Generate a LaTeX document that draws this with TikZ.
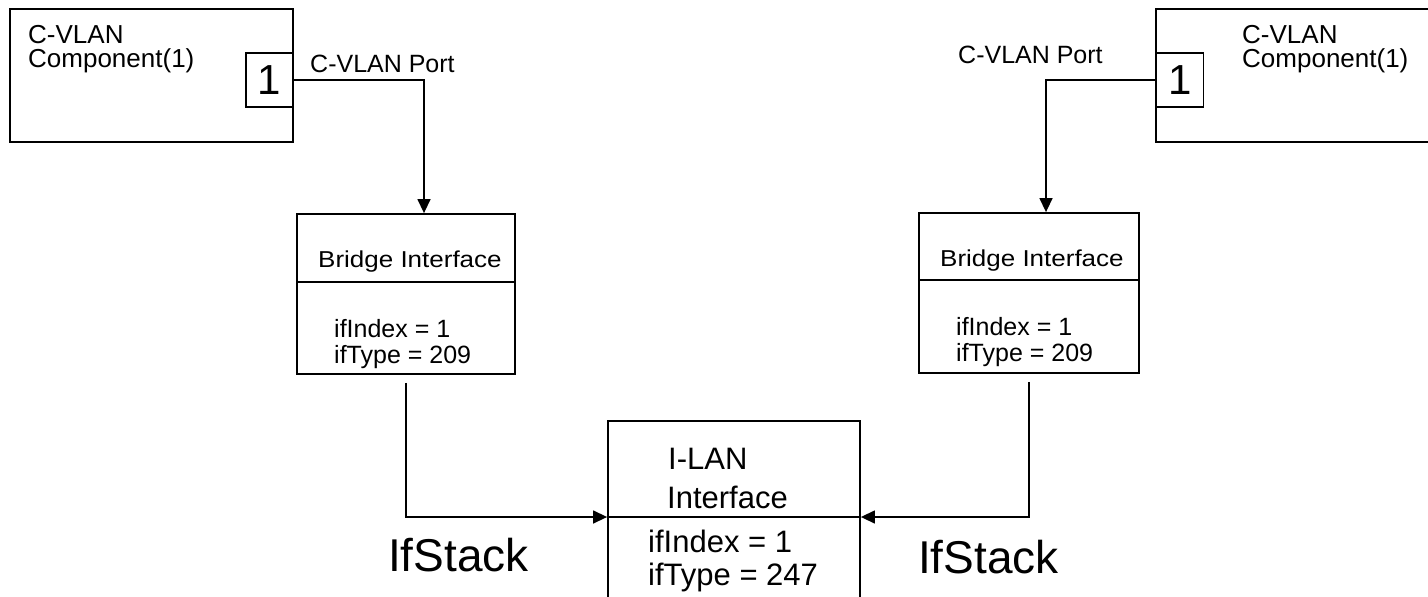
\documentclass[tikz,border=0pt]{standalone}
\usepackage{fontspec}
\setmainfont{Liberation Sans}
\newfontfamily\bifont[FakeStretch=1.13]{Liberation Sans}
\usetikzlibrary{arrows.meta,calc}
\begin{document}
\begin{tikzpicture}[x=1pt,y=-1pt,
  box/.style={draw,line width=1.8pt,inner sep=0pt},
  portbox/.style={draw,fill=white,line width=1.3pt,inner sep=0pt,minimum width=47pt,minimum height=54pt,font=\fontsize{42}{42}\selectfont},
  lbl/.style={anchor=base west,inner sep=0pt,font=\fontsize{25}{25}\selectfont},
  cmplbl/.style={anchor=base west,inner sep=0pt,font=\fontsize{26}{26}\selectfont},
  bilbl/.style={anchor=base west,inner sep=0pt,font=\bifont\fontsize{23}{23}\selectfont},
  illbl/.style={anchor=base west,inner sep=0pt,font=\fontsize{31}{31}\selectfont},
  stacklbl/.style={anchor=base west,inner sep=0pt,font=\fontsize{46}{46}\selectfont},
  divider/.style={line width=1.8pt},
  conn/.style={line width=1.4pt,-{Triangle[length=14pt,width=13pt]}},
]
\useasboundingbox (0,0) rectangle (1428,597);
\clip (0,0) rectangle (1428,597);

% components
\node[box,minimum width=283pt,minimum height=133pt] (c1) at (151.5,75.5) {};
\node[box,minimum width=290pt,minimum height=133pt] (c2) at (1301,75.5) {};
\node[portbox] (p1) at (269.5,80) {1};
\node[portbox] (p2) at (1180,80) {1};
\node[cmplbl] (c1a) at (28,43) {C-VLAN};
\node[cmplbl] (c1b) at (28,67) {Component(1)};
\node[cmplbl] (c2a) at (1242,43) {C-VLAN};
\node[cmplbl] (c2b) at (1242,67) {Component(1)};
\node[lbl] (pl1) at (310,72) {C-VLAN Port};
\node[lbl] (pl2) at (958,63) {C-VLAN Port};

% bridge interfaces
\node[box,minimum width=218pt,minimum height=160pt] (b1) at (406,294) {};
\node[box,minimum width=220pt,minimum height=160pt] (b2) at (1029,293) {};
\coordinate (d1) at (0,282);
\coordinate (d2) at (0,280);
\draw[divider] (b1.west |- d1) -- (b1.east |- d1);
\draw[divider] (b2.west |- d2) -- (b2.east |- d2);
\node[bilbl] (b1t) at (318,267) {Bridge Interface};
\node[lbl] (b1i) at (334,337) {ifIndex = 1};
\node[lbl] (b1y) at (334,363) {ifType = 209};
\node[bilbl] (b2t) at (940,266) {Bridge Interface};
\node[lbl] (b2i) at (956,335) {ifIndex = 1};
\node[lbl] (b2y) at (956,361) {ifType = 209};

% I-LAN interface
\node[box,minimum width=252pt,minimum height=192pt] (il) at (734,517) {};
\draw[divider] (il.west) -- (il.east);
\node[illbl] (ilt1) at (668,469) {I-LAN};
\node[illbl] (ilt2) at (667,508) {Interface};
\node[illbl] (ili) at (648,552) {ifIndex = 1};
\node[illbl] (ily) at (648,585) {ifType = 247};

% IfStack labels
\node[stacklbl] (s1) at (388,571) {IfStack};
\node[stacklbl] (s2) at (918,573) {IfStack};

% connectors
\draw[conn] (p1.east) -| ([xshift=18pt]b1.north);
\draw[conn] (p2.west) -| ([xshift=17pt]b2.north);
\draw[conn] ([yshift=-8pt]b1.south) |- (il.west);
\draw[conn] ([yshift=-8pt]b2.south) |- (il.east);
\end{tikzpicture}
\end{document}
